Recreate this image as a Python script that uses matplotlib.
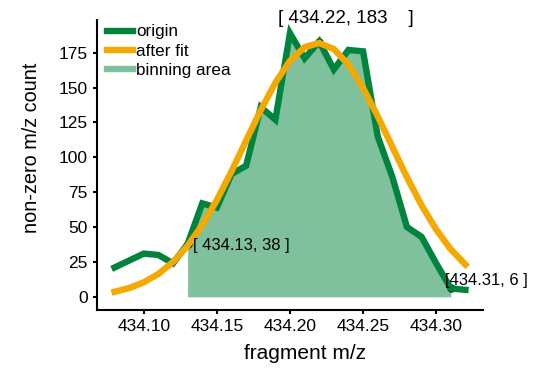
import matplotlib.pyplot as plt
from matplotlib.lines import Line2D

# Data
mz = [434.08, 434.09, 434.10, 434.11, 434.12, 434.13, 434.14, 434.15, 434.16,
      434.17, 434.18, 434.19, 434.20, 434.21, 434.22, 434.23, 434.24, 434.25,
      434.26, 434.27, 434.28, 434.29, 434.30, 434.31, 434.32]
origin = [21, 26, 31, 30, 24, 38, 67, 64, 88, 94, 136, 127, 189, 171, 183,
          163, 177, 176, 115, 86, 50, 43, 24, 6, 5]
fit = [3.6, 6.3, 10.4, 16.4, 25.0, 36.6, 51.5, 69.4, 90.0, 112.0, 133.8, 153.5,
       169.2, 179.0, 182.0, 177.6, 166.5, 149.8, 129.5, 107.5, 85.7, 65.6, 48.2,
       34.0, 23.1]
bin_lo, bin_hi = 434.13, 434.31
marks = [(434.13, 38), (434.22, 183), (434.31, 6)]

green = '#00843d'
orange = '#f5a800'
plt.rcParams['font.family'] = ['Liberation Sans', 'DejaVu Sans']

fig = plt.figure(figsize=(5.59, 3.71), dpi=100)
ax = fig.add_axes([0.1735, 0.1644, 0.6905, 0.7816])

# binning area
bx = [x for x in mz if bin_lo - 1e-9 <= x <= bin_hi + 1e-9]
by = [y for x, y in zip(mz, origin) if bin_lo - 1e-9 <= x <= bin_hi + 1e-9]
ax.fill_between(bx, 0, by, color=green, alpha=0.5, linewidth=0)
ax.plot(mz, origin, color=green, lw=4.6, solid_joinstyle='miter')
ax.plot(mz, fit, color=orange, lw=4.6)

for x, y in marks:
    ax.plot(x, y, 'o', color='black', ms=5, zorder=1)
ax.annotate('[ 434.22, 183    ]', (434.22, 183), xytext=(-41, 23), textcoords='offset pixels',
            ha='left', va='center', fontsize=13.5)
ax.annotate('[ 434.13, 38 ]', (434.13, 38), xytext=(5, -2), textcoords='offset pixels',
            ha='left', va='center', fontsize=12)
ax.annotate('[434.31, 6 ]', (434.31, 6), xytext=(-6, 8), textcoords='offset pixels',
            ha='left', va='center', fontsize=12)

handles = [Line2D([], [], color=green, lw=4.6),
           Line2D([], [], color=orange, lw=4.6),
           Line2D([], [], color=green, alpha=0.5, lw=4.6)]
ax.legend(handles, ['origin', 'after fit', 'binning area'], loc='upper left',
          frameon=False, fontsize=12.3, handlelength=1.5, handletextpad=0.2,
          labelspacing=0.25, borderaxespad=0.2, bbox_to_anchor=(0.0, 1.02))

ax.set_xticks([434.10, 434.15, 434.20, 434.25, 434.30])
ax.set_yticks(range(0, 176, 25))
ax.tick_params(labelsize=12.5, width=1.5, length=3)
for s in ['top', 'right']:
    ax.spines[s].set_visible(False)
for s in ['left', 'bottom']:
    ax.spines[s].set_linewidth(1.5)
ax.set_xlabel('fragment m/z', fontsize=15)
ax.set_ylabel('non-zero m/z count', fontsize=14.3)
ax.xaxis.set_label_coords(0.539, -0.117)
ax.yaxis.set_label_coords(-0.145, 0.558)

fig.savefig('out.png', dpi=100)
